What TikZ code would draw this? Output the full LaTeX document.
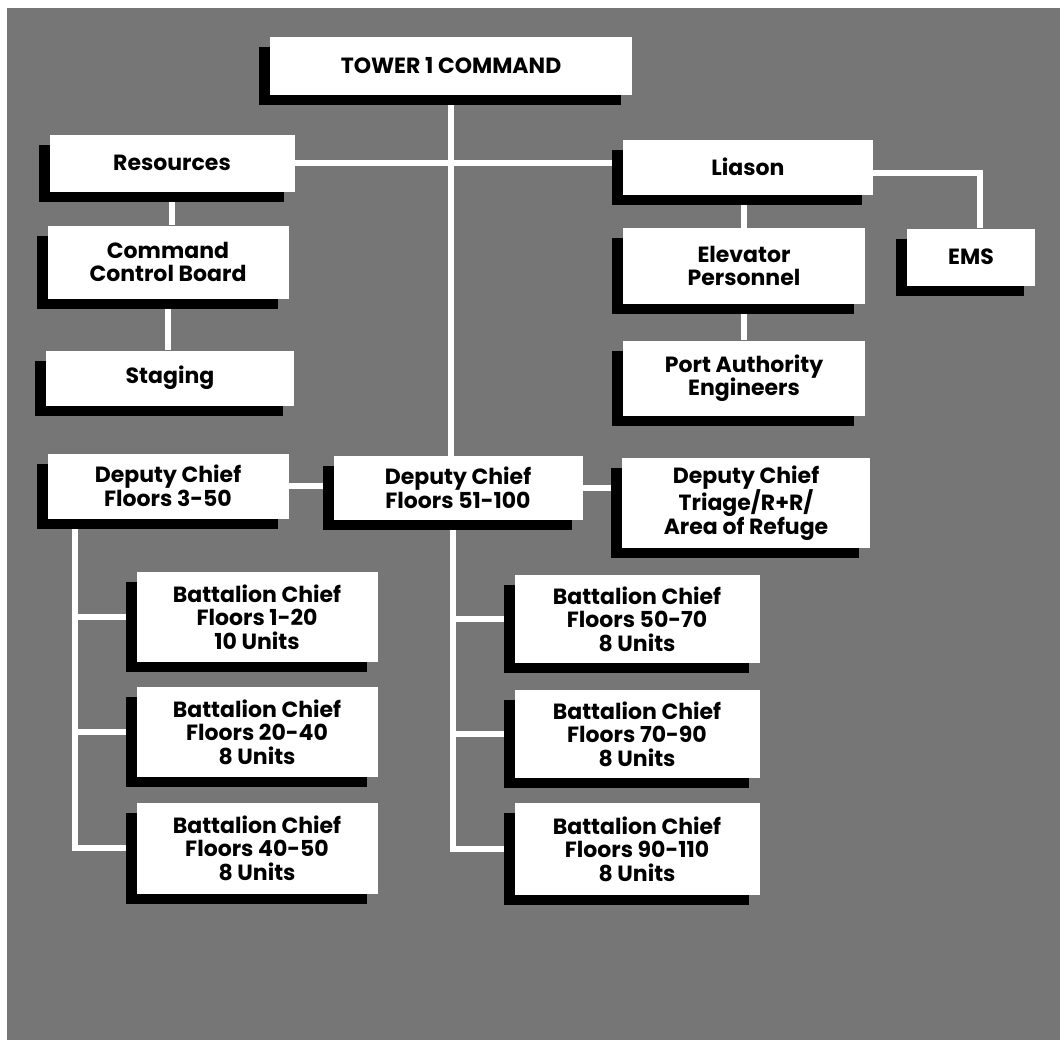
\documentclass[tikz,border=0pt]{standalone}
\usepackage{fontspec}
\setmainfont{Poppins}
\usetikzlibrary{shadows,backgrounds}
\definecolor{bggray}{RGB}{118,118,118}
\tikzset{
  box/.style={rectangle, fill=white, inner sep=0pt, align=center,
    font=\fontsize{22}{23.5}\selectfont\bfseries,
    drop shadow={shadow xshift=-11pt, shadow yshift=-10pt, opacity=1, fill=black}},
  link/.style={draw=white, line width=6pt}
}
\begin{document}
\begin{tikzpicture}[x=1pt,y=-1pt]
\useasboundingbox (0,0) rectangle (1060,1047);
\node[box, minimum width=362pt, minimum height=58pt] (tower) at (451,66) {TOWER 1 COMMAND};
\node[box, minimum width=245pt, minimum height=57pt] (res) at (172,163) {Resources};
\node[box, minimum width=241pt, minimum height=73pt] (cmd) at (168,262) {Command\\Control Board};
\node[box, minimum width=248pt, minimum height=55pt] (stag) at (170,378) {Staging};
\node[box, minimum width=250pt, minimum height=55pt] (lia) at (748,167) {Liason};
\node[box, minimum width=128pt, minimum height=57pt] (ems) at (971,257) {EMS};
\node[box, minimum width=242pt, minimum height=76pt] (elev) at (744,266) {Elevator\\Personnel};
\node[box, minimum width=242pt, minimum height=75pt] (port) at (744,378) {Port Authority\\Engineers};
\node[box, minimum width=241pt, minimum height=65pt] (dc1) at (168,486) {Deputy Chief\\Floors 3-50};
\node[box, minimum width=249pt, minimum height=64pt] (dc2) at (458,488) {Deputy Chief\\Floors 51-100};
\node[box, minimum width=248pt, minimum height=90pt] (dc3) at (746,503) {Deputy Chief\\Triage/R+R/\\Area of Refuge};
\node[box, minimum width=241pt, minimum height=90pt] (bc1) at (257,617) {Battalion Chief\\Floors 1-20\\10 Units};
\node[box, minimum width=241pt, minimum height=90pt] (bc2) at (257,732) {Battalion Chief\\Floors 20-40\\8 Units};
\node[box, minimum width=241pt, minimum height=91pt] (bc3) at (257,848) {Battalion Chief\\Floors 40-50\\8 Units};
\node[box, minimum width=245pt, minimum height=88pt] (bc4) at (637,619) {Battalion Chief\\Floors 50-70\\8 Units};
\node[box, minimum width=245pt, minimum height=88pt] (bc5) at (637,734) {Battalion Chief\\Floors 70-90\\8 Units};
\node[box, minimum width=245pt, minimum height=92pt] (bc6) at (637,849) {Battalion Chief\\Floors 90-110\\8 Units};
\coordinate (lt) at ([xshift=28pt]dc1.south west);
\coordinate (rt) at ([xshift=-5pt]dc2.south);
\begin{scope}[on background layer]
\fill[bggray] (7,8) rectangle (1060,1040);
\draw[link] (tower.south) -- (tower.south |- dc2.north);
\draw[link] (res.east) -- (res.east -| lia.west);
\draw[link] ([yshift=-6pt]lia.east) -| ([xshift=9pt]ems.north);
\draw[link] (elev.north) -- (elev.north |- lia.south);
\draw[link] (elev.south) -- (port.north);
\draw[link] (res.south) -- (res.south |- cmd.north);
\draw[link] (cmd.south) -- (cmd.south |- stag.north);
\draw[link] (dc1.east) -- (dc1.east -| dc2.west);
\draw[link] (dc2.east) -- (dc2.east -| dc3.west);
\draw[link] (lt) |- (bc3.west);
\draw[link] (bc1.west) -- (bc1.west -| lt);
\draw[link] (bc2.west) -- (bc2.west -| lt);
\draw[link] (rt) |- (bc6.west);
\draw[link] (bc4.west) -- (bc4.west -| rt);
\draw[link] (bc5.west) -- (bc5.west -| rt);
\end{scope}
\end{tikzpicture}
\end{document}
